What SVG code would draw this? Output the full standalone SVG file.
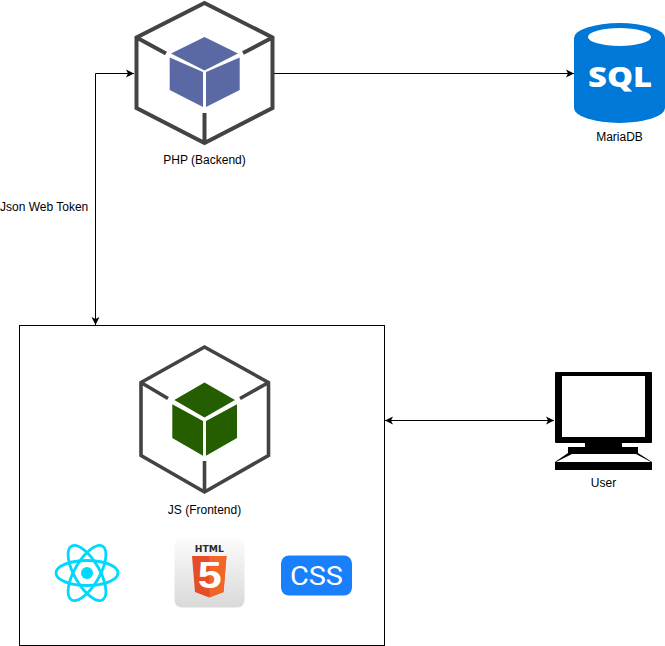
<svg xmlns="http://www.w3.org/2000/svg" width="665" height="646" viewBox="0 0 665 646">
<style>
text{font-family:"Liberation Sans",Arial,sans-serif;font-size:12px;fill:#000}
.m{text-anchor:middle}
.hex{fill:none;stroke:#434343;stroke-width:4;stroke-linejoin:miter}
.hex2{fill:none;stroke:#434343;stroke-width:3.600;stroke-linejoin:miter}
.conn{fill:none;stroke:#000;stroke-width:1}
</style>
<defs>
<marker id="end" markerUnits="userSpaceOnUse" markerWidth="9" markerHeight="10" refX="8" refY="4.5" orient="auto"><path d="M0 0.5L8 4.5L0 8.5L2 4.5Z" fill="#000"/></marker>
<marker id="start" markerUnits="userSpaceOnUse" markerWidth="9" markerHeight="10" refX="0" refY="4.5" orient="auto"><path d="M8 0.5L0 4.5L8 8.5L6 4.5Z" fill="#000"/></marker>
<linearGradient id="tile" x1="0" y1="0" x2="0" y2="1"><stop offset="0" stop-color="#fbfbfb"/><stop offset="1" stop-color="#d9d9d9"/></linearGradient>
</defs>
<g id="connectors">
<path class="conn" d="M274 73.500H574" marker-end="url(#end)"/>
<path class="conn" d="M134 73.500H95.500V325" marker-start="url(#start)" marker-end="url(#end)"/>
<path class="conn" d="M385 420.500H554" marker-start="url(#start)" marker-end="url(#end)"/>
</g>
<text x="0" y="211">Json Web Token</text>
<g id="frontend-box"><rect x="19.500" y="325.500" width="365" height="320" fill="none" stroke="#000"/></g>
<g id="php">
<path class="hex" d="M204.500 3L272.500 37.500V108L204.500 143L136.500 108V37.500ZM136.500 37.500L166 53.500M272.500 37.500L243 53M204.500 143V113"/>
<path d="M204.500 37L238 53.500L204.500 70.500L171 53.500Z" fill="#5a69a4"/>
<path d="M169.700 57.500L203 72V107L169.700 90Z" fill="#5a69a4"/>
<path d="M239.700 57.500L206 72V107L239.700 90Z" fill="#5a69a4"/>
<text class="m" x="204.500" y="164">PHP (Backend)</text>
</g>
<g id="mariadb">
<path d="M574 38A45.500 15 0 0 1 665 38V108A45.500 15 0 0 1 574 108Z" fill="#0078d7"/>
<ellipse cx="619.500" cy="37" rx="31.500" ry="9" fill="#fff"/>
<text class="m" x="620" y="87" style="font-family:'Open Sans',sans-serif;font-weight:800;font-size:28px;fill:#fff" textLength="64" lengthAdjust="spacingAndGlyphs">SQL</text>
<text class="m" x="619.500" y="141">MariaDB</text>
</g>
<g id="js">
<path class="hex2" d="M204.500 347L268.500 382.500V455.500L204.500 492L141 455.500V382.500ZM141 382.500L168 398.500M268.500 382.500L240 398.500M204.500 492V461"/>
<path d="M204.500 382.500L235 400L204.500 417.500L174.300 400Z" fill="#255e00"/>
<path d="M172.300 404.300L203 421V455.700L172.300 438Z" fill="#255e00"/>
<path d="M237 404.300L206 421V455.700L237 438Z" fill="#255e00"/>
<text class="m" x="204.500" y="514">JS (Frontend)</text>
</g>
<g id="react" fill="none" stroke="#00d8ff" stroke-width="2.800">
<ellipse cx="87" cy="573" rx="31" ry="12.500"/>
<ellipse cx="87" cy="573" rx="31" ry="12.500" transform="rotate(60 87 573)"/>
<ellipse cx="87" cy="573" rx="31" ry="12.500" transform="rotate(120 87 573)"/>
<circle cx="87" cy="573" r="6" fill="#00d8ff" stroke="none"/>
</g>
<g id="html">
<rect x="174.500" y="539" width="70" height="68.500" rx="7" fill="url(#tile)"/>
<text class="m" x="209.300" y="552" style="font-family:'DejaVu Sans',sans-serif;font-weight:bold;font-size:9.500px;fill:#2a2a2a" textLength="29" lengthAdjust="spacingAndGlyphs">HTML</text>
<path d="M192 556H226.500L223.500 592L209.300 597.500L195 592Z" fill="#e44d26"/>
<path d="M209.300 556H226.500L223.500 592L209.300 597.500Z" fill="#f16529"/>
<text class="m" x="209.800" y="588" style="font-weight:bold;font-size:36px;fill:#fff" textLength="24" lengthAdjust="spacingAndGlyphs">5</text>
</g>
<g id="css">
<rect x="281" y="555.500" width="71" height="40" rx="8" fill="#1a7ffb"/>
<text class="m" x="316.500" y="585" style="font-family:Roboto,sans-serif;font-size:26px;font-weight:400;fill:#fff" textLength="53" lengthAdjust="spacingAndGlyphs">CSS</text>
</g>
<g id="user">
<path fill-rule="evenodd" d="M556 372H651Q652 372 652 373V442Q652 443 651 443H622V447H638V453L652 462V470H555V462L568 453V447H585V443H556Q555 443 555 442V373Q555 372 556 372ZM562 376V437H645V376ZM572 454L556 462H651L636 454Z" fill="#000"/>
<text class="m" x="603.500" y="487">User</text>
</g>
</svg>
